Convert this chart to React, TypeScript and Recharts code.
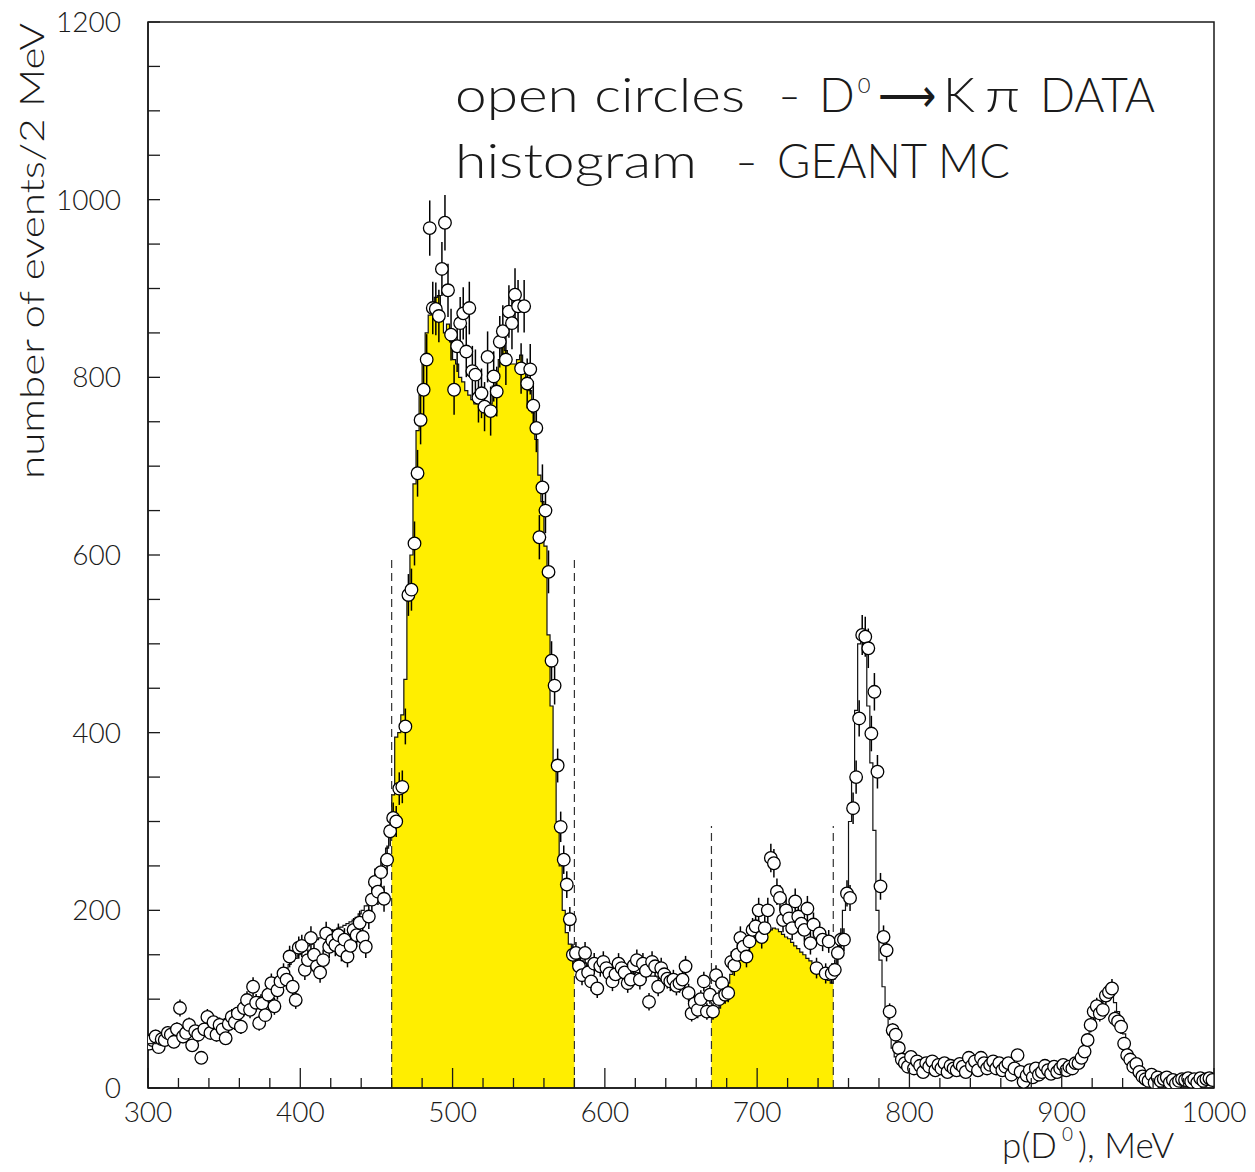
import React from 'react';
import {
  ComposedChart,
  XAxis,
  YAxis,
  Line,
  Area,
  Scatter,
  ErrorBar,
  ReferenceLine,
  ReferenceArea,
} from 'recharts';

// p(D0) spectrum, 2 MeV bins from 300 to 1000 MeV
const BIN_LO = 300;
const BIN_HI = 1000;
const BIN_W = 2;

// D0 -> K pi data, events per bin (bin centres 301, 303, ..., 999)
const dataCounts: number[] = [
  50, 54, 58, 46, 55, 54, 62, 60, 52, 66,
  90, 58, 62, 71, 48, 64, 60, 34, 66, 80,
  62, 74, 60, 71, 66, 56, 72, 80, 74, 84,
  69, 90, 99, 88, 114, 96, 73, 95, 82, 105,
  118, 92, 110, 120, 129, 122, 148, 114, 99, 158,
  160, 133, 144, 169, 150, 137, 130, 144, 174, 159,
  166, 161, 172, 155, 167, 148, 160, 178, 172, 186,
  170, 159, 193, 212, 232, 221, 243, 213, 257, 289,
  304, 300, 337, 339, 407, 555, 561, 613, 692, 752,
  786, 820, 968, 878, 877, 869, 922, 974, 898, 848,
  786, 835, 861, 872, 829, 878, 807, 803, 777, 782,
  767, 823, 762, 801, 784, 840, 852, 820, 874, 861,
  893, 880, 810, 880, 793, 809, 768, 743, 620, 676,
  650, 581, 481, 453, 363, 294, 257, 229, 190, 150,
  152, 137, 127, 152, 130, 120, 140, 112, 137, 142,
  135, 129, 120, 128, 140, 135, 130, 118, 122, 138,
  144, 122, 140, 132, 97, 142, 137, 114, 135, 128,
  123, 120, 122, 115, 118, 122, 137, 107, 84, 95,
  88, 100, 120, 86, 105, 86, 127, 100, 118, 105,
  107, 142, 138, 150, 169, 159, 148, 165, 178, 182,
  200, 170, 180, 200, 259, 253, 221, 214, 189, 200,
  191, 180, 210, 193, 185, 178, 202, 163, 184, 135,
  174, 167, 129, 165, 129, 133, 152, 167, 167, 219,
  214, 315, 350, 416, 510, 508, 495, 399, 446, 356,
  227, 170, 155, 86, 65, 60, 45, 32, 28, 24,
  35, 22, 30, 25, 18, 28, 24, 30, 20, 26,
  22, 28, 18, 25, 22, 20, 27, 24, 18, 34,
  25, 30, 20, 34, 28, 22, 26, 30, 22, 28,
  20, 24, 28, 15, 22, 37, 18, 7, 14, 20,
  12, 22, 15, 18, 25, 20, 16, 24, 18, 22,
  26, 20, 24, 22, 28, 28, 34, 41, 54, 71,
  86, 92, 84, 88, 104, 108, 112, 78, 75, 69,
  50, 37, 32, 24, 27, 18, 13, 10, 8, 15,
  6, 12, 8, 10, 12, 6, 9, 5, 8, 10,
  9, 11, 7, 10, 6, 11, 8, 10, 11, 9,
];

// GEANT Monte Carlo, events per bin (bin lower edges 300, 302, ..., 998)
const mcCounts: number[] = [
  50, 52, 53, 52, 55, 56, 57, 56, 59, 60,
  61, 60, 63, 64, 63, 66, 67, 66, 69, 70,
  71, 73, 72, 75, 77, 78, 80, 82, 83, 86,
  88, 90, 93, 95, 97, 100, 103, 105, 108, 112,
  115, 118, 123, 127, 131, 135, 139, 143, 146, 150,
  153, 157, 160, 162, 165, 167, 169, 171, 173, 175,
  176, 178, 180, 181, 183, 185, 187, 189, 192, 196,
  200, 205, 211, 218, 226, 235, 245, 257, 270, 290,
  330, 395, 400, 420, 460, 555, 600, 680, 740, 780,
  820, 850, 870, 875, 890, 892, 870, 850, 860, 840,
  820, 815, 800, 795, 785, 780, 775, 770, 780, 765,
  760, 758, 770, 790, 800, 820, 835, 830, 825, 815,
  815, 820, 825, 805, 800, 785, 760, 730, 690, 660,
  610, 510, 430, 365, 300, 250, 200, 175, 162, 152,
  148, 146, 143, 141, 138, 137, 135, 134, 134, 133,
  133, 132, 132, 131, 131, 130, 131, 130, 130, 129,
  130, 129, 128, 128, 127, 126, 126, 125, 124, 123,
  122, 120, 118, 117, 115, 113, 111, 108, 106, 103,
  100, 97, 92, 88, 84, 80, 86, 90, 98, 108,
  118, 128, 138, 144, 150, 156, 160, 163, 166, 170,
  172, 175, 176, 177, 178, 180, 179, 176, 173, 170,
  168, 164, 160, 157, 153, 150, 146, 143, 140, 136,
  132, 128, 124, 121, 118, 140, 155, 174, 200, 220,
  300, 350, 425, 500, 505, 500, 430, 366, 290, 200,
  144, 114, 84, 60, 45, 35, 29, 26, 24, 23,
  23, 22, 23, 22, 22, 21, 22, 21, 21, 22,
  21, 22, 21, 21, 20, 21, 21, 20, 21, 20,
  20, 21, 20, 20, 21, 20, 20, 19, 20, 20,
  19, 20, 19, 19, 18, 19, 18, 18, 19, 18,
  18, 18, 19, 18, 19, 19, 20, 20, 21, 22,
  23, 24, 26, 28, 31, 35, 41, 48, 56, 66,
  76, 85, 92, 98, 102, 105, 103, 96, 86, 74,
  61, 49, 39, 31, 25, 20, 16, 13, 11, 10,
  9, 9, 8, 8, 8, 8, 7, 7, 7, 7,
  7, 7, 7, 6, 7, 6, 6, 6, 6, 6,
];

// momentum windows shaded under the MC histogram
const signalWindows: [number, number][] = [
  [460, 580],
  [670, 750],
];
// dashed cut lines at the window edges and their heights
const cutPositions = [460, 580, 670, 750];
const cutHeights = [600, 600, 295, 295];

const xLabelTicks = [300, 400, 500, 600, 700, 800, 900, 1000];
const yLabelTicks = [0, 200, 400, 600, 800, 1000, 1200];
const X_MINOR_STEP = 20;
const Y_MINOR_STEP = 50;
const Y_MAX = 1200;

const xTicks: number[] = [];
for (let v = BIN_LO; v <= BIN_HI; v += X_MINOR_STEP) xTicks.push(v);
const yTicks: number[] = [];
for (let v = 0; v <= Y_MAX; v += Y_MINOR_STEP) yTicks.push(v);

// step-histogram rows keyed by bin lower edge, plus the closing edge
const histRows: Record<string, number | null>[] = mcCounts.map((v, i) => {
  const x = BIN_LO + i * BIN_W;
  const row: Record<string, number | null> = { x, mc: v };
  signalWindows.forEach(([lo, hi], k) => {
    row['sig' + k] = x >= lo && x < hi ? v : null;
  });
  return row;
});
histRows.push({ x: BIN_HI, mc: mcCounts[mcCounts.length - 1], sig0: null, sig1: null });
signalWindows.forEach(([, hi], k) => {
  const idx = (hi - BIN_LO) / BIN_W;
  histRows[idx]['sig' + k] = mcCounts[idx - 1];
});

// data points at bin centres with Poisson errors
const dataPoints = dataCounts.map((v, i) => ({
  x: BIN_LO + BIN_W * (i + 0.5),
  y: v,
  err: Math.sqrt(v),
}));

const FONT = 'Lato, "DejaVu Sans", sans-serif';
const INK = '#1a1a1a';

const XTick = (props: any) => {
  const { x, y, payload } = props;
  const major = xLabelTicks.includes(payload.value);
  return (
    <g>
      <line x1={x} x2={x} y1={y} y2={y - (major ? 20 : 10)} stroke={INK} strokeWidth={1.3} />
      {major && (
        <text x={x} y={y + 34} textAnchor="middle" fontFamily={FONT} fontWeight={300} fontSize={28} fill={INK}>
          {payload.value}
        </text>
      )}
    </g>
  );
};

const YTick = (props: any) => {
  const { x, y, payload } = props;
  const major = yLabelTicks.includes(payload.value);
  return (
    <g>
      <line x1={x} x2={x + 12} y1={y} y2={y} stroke={INK} strokeWidth={1.3} />
      {major && (
        <text x={x - 27} y={y + 10} textAnchor="end" fontFamily={FONT} fontWeight={300} fontSize={28} fill={INK}>
          {payload.value}
        </text>
      )}
    </g>
  );
};

const OpenCircle = (props: any) => {
  const { cx, cy } = props;
  if (cx == null || cy == null) return null;
  return <circle cx={cx} cy={cy} r={6.3} fill="#fff" stroke="#000" strokeWidth={1.3} />;
};

// a piece of text stretched to a given width
const Piece = ({ x, y, w, size, children, family }: any) => (
  <text
    x={x}
    y={y}
    fontSize={size}
    textLength={w}
    lengthAdjust="spacingAndGlyphs"
    fontFamily={family || FONT}
  >
    {children}
  </text>
);

export default function App() {
  return (
    <div style={{ position: 'absolute', left: 0, top: 0, width: 1255, height: 1172, background: '#fff' }}>
      <ComposedChart
        width={1255}
        height={1172}
        data={histRows}
        margin={{ top: 22, right: 41, bottom: 0, left: 0 }}
      >
        <XAxis
          dataKey="x"
          type="number"
          domain={[BIN_LO, BIN_HI]}
          ticks={xTicks}
          interval={0}
          tickSize={0}
          tickMargin={0}
          tickLine={false}
          axisLine={{ stroke: INK, strokeWidth: 1.5 }}
          tick={<XTick />}
          height={84}
          allowDataOverflow
        />
        <YAxis
          type="number"
          domain={[0, Y_MAX]}
          ticks={yTicks}
          interval={0}
          tickSize={0}
          tickMargin={0}
          tickLine={false}
          axisLine={{ stroke: INK, strokeWidth: 1.5 }}
          tick={<YTick />}
          width={148}
          allowDataOverflow
        />
        {signalWindows.map((_, k) => (
          <Area
            key={'sig' + k}
            dataKey={'sig' + k}
            type="stepAfter"
            stroke="none"
            fill="#ffee00"
            fillOpacity={1}
            connectNulls={false}
            dot={false}
            activeDot={false}
            isAnimationActive={false}
          />
        ))}
        <Line
          dataKey="mc"
          type="stepAfter"
          stroke="#111"
          strokeWidth={1.2}
          dot={false}
          activeDot={false}
          isAnimationActive={false}
        />
        {cutPositions.map((xv, k) => (
          <ReferenceLine
            key={'cut' + k}
            segment={[
              { x: xv, y: 0 },
              { x: xv, y: cutHeights[k] },
            ]}
            stroke="#333"
            strokeWidth={1.2}
            strokeDasharray="8 5"
            ifOverflow="visible"
          />
        ))}
        <Scatter data={dataPoints} dataKey="y" shape={<OpenCircle />} isAnimationActive={false}>
          <ErrorBar dataKey="err" direction="y" width={0} stroke="#000" strokeWidth={1.5} isAnimationActive={false} />
        </Scatter>
        <ReferenceArea
          x1={BIN_LO}
          x2={BIN_HI}
          y1={0}
          y2={Y_MAX}
          fill="none"
          fillOpacity={0}
          stroke={INK}
          strokeWidth={1.5}
          ifOverflow="visible"
        />
      </ComposedChart>
      <svg
        width={1255}
        height={1172}
        style={{ position: 'absolute', left: 0, top: 0, pointerEvents: 'none' }}
      >
        <g fontFamily={FONT} fontWeight={300} fill={INK}>
          <Piece x={455} y={112} w={290} size={47}>open circles</Piece>
          <Piece x={779} y={112} w={21} size={47}>–</Piece>
          <text x={819} y={112} fontSize={47}>
            D<tspan dx={3} dy={-19} fontSize={22}>0</tspan>
          </text>
          <Piece x={878} y={112} w={58} size={47} family='"DejaVu Sans", sans-serif'>⟶</Piece>
          <Piece x={943} y={112} w={32} size={47}>K</Piece>
          <Piece x={985} y={112} w={35} size={47}>π</Piece>
          <Piece x={1040} y={112} w={115} size={47}>DATA</Piece>

          <Piece x={455} y={178} w={242} size={47}>histogram</Piece>
          <Piece x={736} y={178} w={21} size={47}>–</Piece>
          <Piece x={777} y={178} w={233} size={47}>GEANT MC</Piece>

          <text
            transform="rotate(-90)"
            x={-251}
            y={44}
            textAnchor="middle"
            fontSize={34}
            textLength={456}
            lengthAdjust="spacingAndGlyphs"
          >
            number of events/2 MeV
          </text>

          <text x={1002} y={1158} fontSize={35}>
            p(D<tspan dx={5} dy={-17} fontSize={19}>0</tspan>
            <tspan dx={5} dy={17}>), MeV</tspan>
          </text>
        </g>
      </svg>
    </div>
  );
}
